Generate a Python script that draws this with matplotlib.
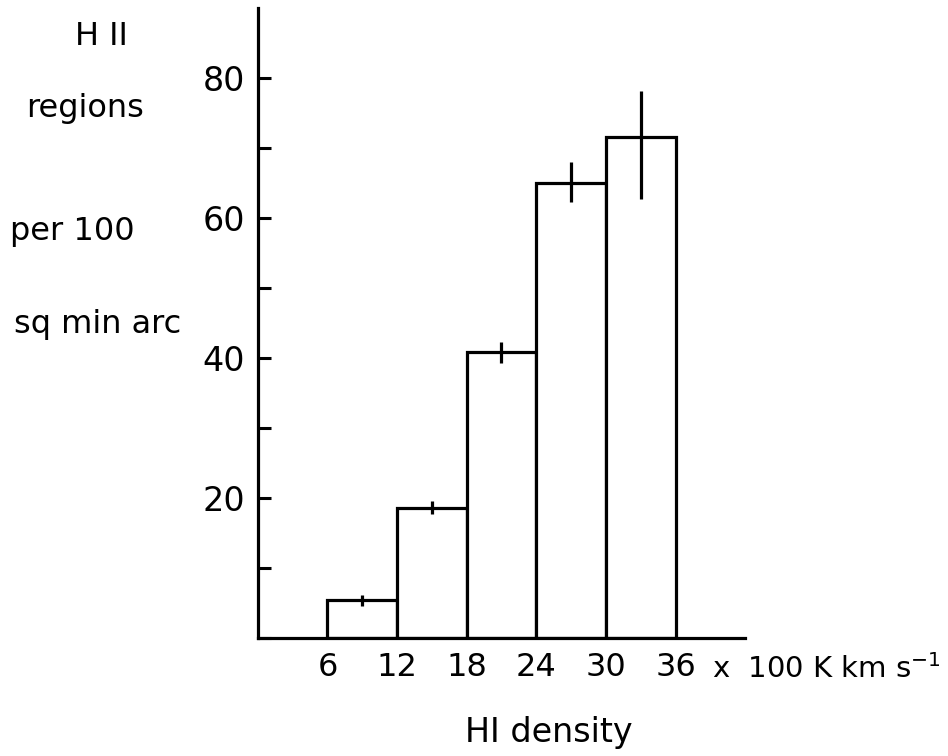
import matplotlib
matplotlib.use("Agg")
import matplotlib.pyplot as plt
from matplotlib.ticker import MultipleLocator

# histogram of HII regions against HI density
bin_edges = [6, 12, 18, 24, 30, 36]
counts = [5.4, 18.6, 40.8, 64.9, 71.5]
err_low = [0.8, 0.9, 1.5, 2.7, 8.8]
err_high = [0.8, 0.9, 1.4, 3.1, 6.6]
x_ticks = [6, 12, 18, 24, 30, 36]
y_ticks = [20, 40, 60, 80]

fig = plt.figure(figsize=(9.48, 7.56), dpi=100)
ax = fig.add_axes([0.272, 0.156, 0.514, 0.833])

widths = [b - a for a, b in zip(bin_edges[:-1], bin_edges[1:])]
centers = [a + w / 2 for a, w in zip(bin_edges[:-1], widths)]
ax.bar(bin_edges[:-1], counts, width=widths, align="edge",
       facecolor="white", edgecolor="black", linewidth=2.3)
ax.errorbar(centers, counts, yerr=[err_low, err_high], fmt="none",
            ecolor="black", elinewidth=2.3, capsize=0)

ax.set_xlim(0, 42)
ax.set_ylim(0, 89.9)
for side in ["top", "right"]:
    ax.spines[side].set_visible(False)
for side in ["left", "bottom"]:
    ax.spines[side].set_linewidth(2.3)

ax.set_xticks(x_ticks)
ax.set_xticklabels([str(t) for t in x_ticks], fontsize=23)
ax.tick_params(axis="x", length=0, pad=10)

ax.set_yticks(y_ticks)
ax.set_yticklabels([str(t) for t in y_ticks], fontsize=24)
ax.yaxis.set_minor_locator(MultipleLocator(10))
ax.tick_params(axis="y", which="both", direction="in", length=9, width=2.2, pad=9)

# units after the last tick label, and the axis name below
fig.text(0.751, 1 - 678 / 756, r"x  100 K km s$^{-1}$", fontsize=21,
         ha="left", va="baseline")
fig.text(0.579, 1 - 742 / 756, "HI density", fontsize=24,
         ha="center", va="baseline")

# y axis label, in four pieces at the left
fig.text(0.107, 1 - 45 / 756, "H II", fontsize=23, ha="center", va="baseline")
fig.text(0.090, 1 - 117 / 756, "regions", fontsize=23, ha="center", va="baseline")
fig.text(0.076, 1 - 240 / 756, "per 100", fontsize=23, ha="center", va="baseline")
fig.text(0.103, 1 - 333 / 756, "sq min arc", fontsize=23, ha="center", va="baseline")

fig.savefig("out.png", dpi=100)
